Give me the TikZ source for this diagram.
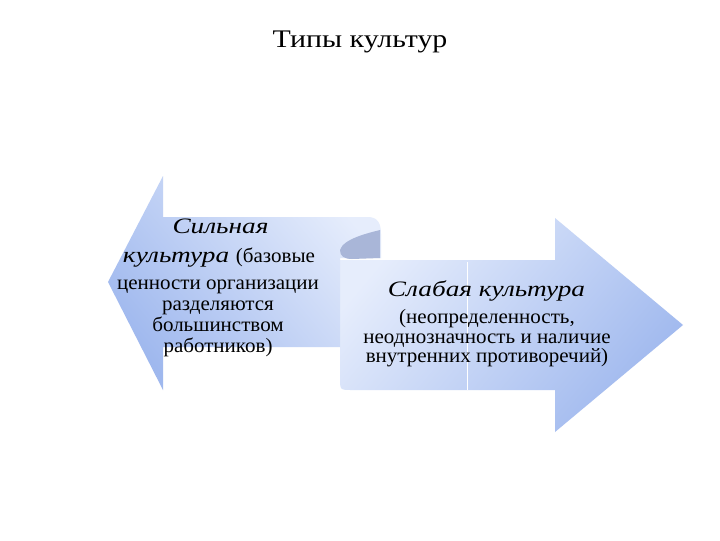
\documentclass[tikz,border=0pt]{standalone}
\usepackage{fontspec}
\setmainfont{Liberation Serif}
\newfontfamily\titlefont{Liberation Serif}[FakeStretch=1.18]
\newfontfamily\itfont{Liberation Serif}[FakeStretch=1.24]
\newfontfamily\bodyfont{Liberation Serif}[FakeStretch=1.03]
\definecolor{arlight}{HTML}{E6EDFC}
\definecolor{ardark}{HTML}{9FB8EE}
\definecolor{curl}{HTML}{A9B6D8}
\tikzset{
  arrowshape/.style={draw=none},
  title/.style={font=\titlefont\fontsize{19}{22}\selectfont, anchor=base, inner sep=0pt},
  itxt/.style={font=\itfont\itshape\fontsize{16.5}{19}\selectfont, anchor=base, inner sep=0pt},
  rtxt/.style={font=\bodyfont\fontsize{15.3}{18}\selectfont, anchor=base, inner sep=0pt},
}
\begin{document}
\begin{tikzpicture}[x=0.75pt,y=-0.75pt]
\useasboundingbox (0,0) rectangle (720,540);
\fill[white] (0,0) rectangle (720,540);
% right arrow
\path[arrowshape, top color=arlight, bottom color=ardark, shading angle=50]
  (340,260) -- (555,260) -- (555,218) -- (683,325) -- (555,432) -- (555,390)
  -- (352,390) .. controls (340,390) .. (340,378) -- cycle;
\draw[white, line width=0.6pt] (467,262) -- (467,390);
% left arrow
\path[arrowshape, top color=arlight, bottom color=ardark, shading angle=-50]
  (108,282) -- (163,176) -- (163,217) -- (368,217)
  .. controls (378,217) and (381,224) .. (381,234) -- (381,258)
  -- (340,258) -- (340,347) -- (163,347) -- (163,390) -- cycle;
% curl
\fill[curl] (340,250) .. controls (343,239) and (368,233) .. (380,230)
  -- (380,258) -- (352,259) .. controls (344,259) and (340,256) .. (340,250) -- cycle;
% texts
\node[title] (t) at (360,47) {Типы культур};
\node[itxt] (l1) at (220.5,233) {Сильная};
\node[itxt] (l2) at (219,262) {культура {\bodyfont\upshape\fontsize{15.3}{18}\selectfont(базовые}};
\node[rtxt] (l3) at (218,289) {ценности организации};
\node[rtxt] (l4) at (218,310) {разделяются};
\node[rtxt] (l5) at (218,331) {большинством};
\node[rtxt] (l6) at (218,352) {работников)};
\node[itxt] (r1) at (486.5,296) {Слабая культура};
\node[rtxt] (r2) at (487,323) {(неопределенность,};
\node[rtxt] (r3) at (487,343) {неоднозначность и наличие};
\node[rtxt] (r4) at (487,362) {внутренних противоречий)};
\end{tikzpicture}
\end{document}
